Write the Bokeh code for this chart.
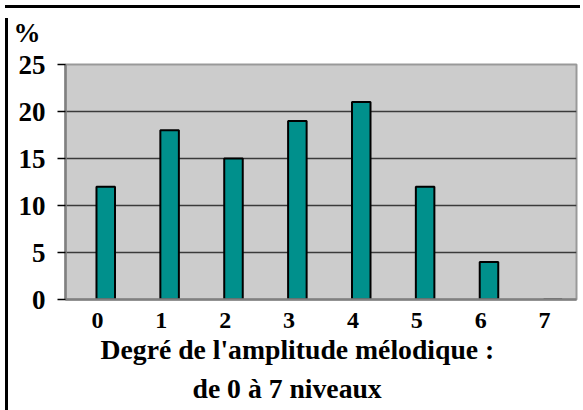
from bokeh.plotting import figure
from bokeh.models import ColumnDataSource, FixedTicker, Range1d, Title, Div
from bokeh.layouts import column, row
from bokeh.embed import file_html
from bokeh.resources import INLINE

degrees = [0, 1, 2, 3, 4, 5, 6, 7]
percent = [12, 18, 15, 19, 21, 12, 4, 0]
y_ticks = [0, 5, 10, 15, 20, 25]
x_label_1 = "Degré de l'amplitude mélodique :"
x_label_2 = "de 0 à 7 niveaux"
unit_label = "%"

FONT = "Liberation Serif"

src = ColumnDataSource(dict(x=[d + 0.13 for d in degrees], top=percent))

p = figure(width=572, height=399, output_backend="svg", toolbar_location=None,
           x_range=Range1d(-0.5, 7.5), y_range=Range1d(0, 25),
           min_border_left=52, min_border_right=9, min_border_top=51, min_border_bottom=113,
           background_fill_color="#CCCCCC", border_fill_color="white")

p.vbar(x="x", top="top", width=0.29, bottom=0, source=src,
       fill_color="#00908C", line_color="black", line_width=2)

p.outline_line_color = "#999999"
p.outline_line_width = 2

p.xgrid.grid_line_color = None
p.ygrid.grid_line_color = "#3a3a3a"
p.ygrid.grid_line_width = 1.5
p.ygrid.ticker = FixedTicker(ticks=y_ticks)

p.xaxis.ticker = FixedTicker(ticks=degrees)
p.xaxis.major_tick_line_color = None
p.xaxis.minor_tick_line_color = None
p.xaxis.axis_line_color = "#808080"
p.xaxis.axis_line_width = 2.5
p.xaxis.major_label_text_font = FONT
p.xaxis.major_label_text_font_style = "bold"
p.xaxis.major_label_text_font_size = "24px"
p.xaxis.major_label_text_color = "black"
p.xaxis.major_label_standoff = 7

p.yaxis.ticker = FixedTicker(ticks=y_ticks)
p.yaxis.minor_tick_line_color = None
p.yaxis.major_tick_line_color = "black"
p.yaxis.major_tick_line_width = 1.5
p.yaxis.major_tick_out = 8
p.yaxis.major_tick_in = 0
p.yaxis.axis_line_color = "#808080"
p.yaxis.axis_line_width = 2.5
p.yaxis.major_label_text_font = FONT
p.yaxis.major_label_text_font_style = "bold"
p.yaxis.major_label_text_font_size = "27px"
p.yaxis.major_label_text_color = "black"
p.yaxis.major_label_standoff = 12

p.title.text = ""

# spacer title next to the frame, then the percent sign above it
p.add_layout(Title(text=" ", text_font=FONT, text_font_size="1px", standoff=10), "above")
p.add_layout(Title(text=unit_label, align="left", offset=-52, vertical_align="top",
                   text_font=FONT, text_font_style="bold", text_font_size="27px",
                   text_color="black", standoff=4), "above")

# x-axis title on two lines
t1 = Title(text=x_label_1, align="left", offset=35, text_font=FONT, text_font_style="bold",
           text_font_size="27.7px", text_color="black", standoff=2)
t2 = Title(text=x_label_2, align="left", offset=127, text_font=FONT, text_font_style="bold",
           text_font_size="27.7px", text_color="black", standoff=10)
p.add_layout(t1, "below")
p.add_layout(t2, "below")

top_bar = Div(width=575, height=3, styles={"background-color": "black"})
left_bar = Div(width=3, height=399, styles={"background-color": "black"})

layout = column(top_bar, row(left_bar, p))

open("out.html", "w").write(file_html(layout, INLINE))
